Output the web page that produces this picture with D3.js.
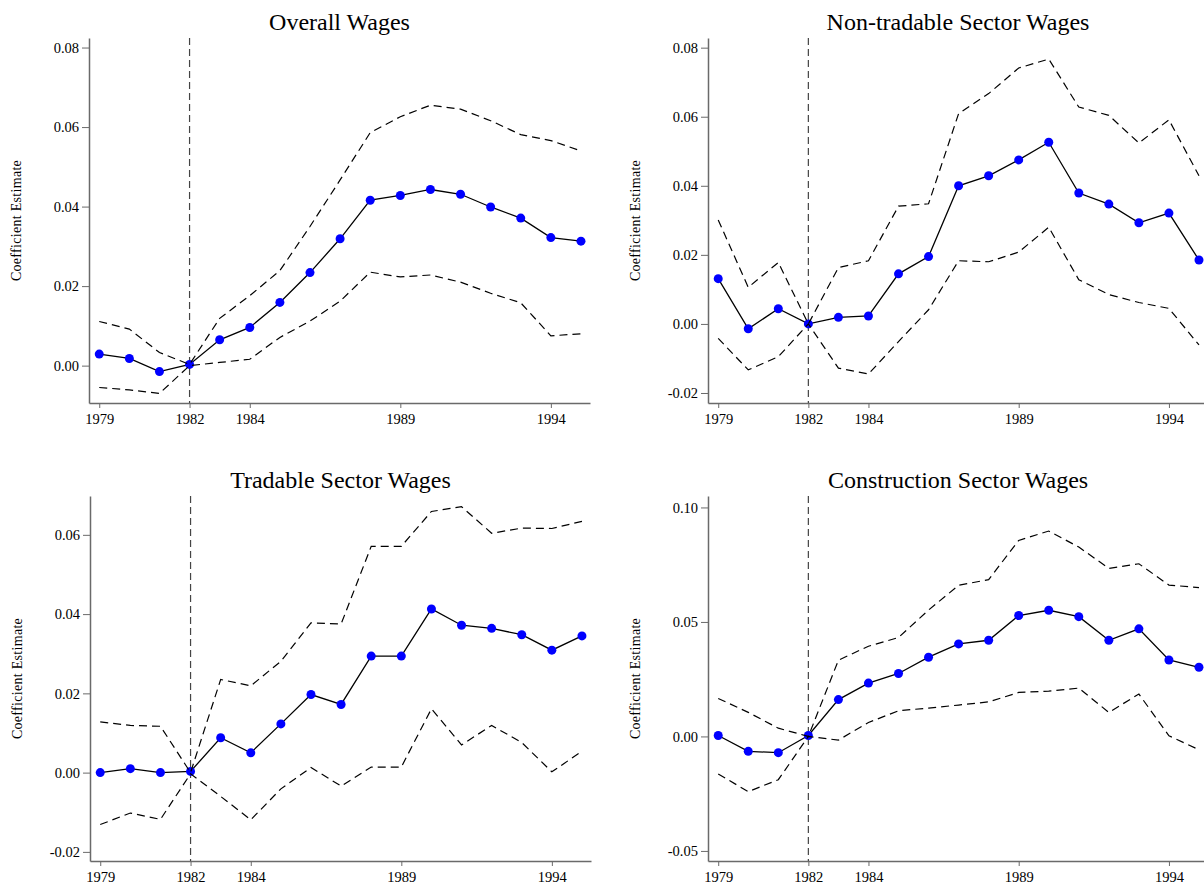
<!DOCTYPE html>
<html>
<head>
<meta charset="utf-8">
<script src="https://cdn.jsdelivr.net/npm/d3@7"></script>
<style>
  html, body { margin: 0; padding: 0; background: #fff; }
  svg { display: block; font-family: "Liberation Serif", "Times New Roman", serif; }
</style>
</head>
<body>
<div id="chart"></div>
<script>
const YEARS = [1979, 1980, 1981, 1982, 1983, 1984, 1985, 1986, 1987,
               1988, 1989, 1990, 1991, 1992, 1993, 1994, 1995];
const X_TICKS = [1979, 1982, 1984, 1989, 1994];
const X_RANGE = [1978.66, 1995.3];
const EVENT_YEAR = 1982;

// Overall wages
const OVERALL_COEF  = [0.0029, 0.0018, -0.0015, 0.0003, 0.0065, 0.0096, 0.0159, 0.0234, 0.0319,
                       0.0416, 0.0428, 0.0443, 0.0431, 0.0399, 0.0371, 0.0322, 0.0313];
const OVERALL_UPPER = [0.0111, 0.0092, 0.0033, 0.0003, 0.0119, 0.0176, 0.0239, 0.0350, 0.0467,
                       0.0586, 0.0626, 0.0655, 0.0645, 0.0616, 0.0581, 0.0566, 0.0540];
const OVERALL_LOWER = [-0.0055, -0.0061, -0.0070, 0.0000, 0.0008, 0.0016, 0.0071, 0.0112, 0.0162,
                       0.0235, 0.0223, 0.0228, 0.0210, 0.0182, 0.0158, 0.0075, 0.0080];
const OVERALL_Y_TICKS = [0, 0.02, 0.04, 0.06, 0.08];
const OVERALL_Y_RANGE = [-0.0094, 0.0824];

// Non-tradable sector wages
const NONTRAD_COEF  = [0.0131, -0.0014, 0.0044, 0.0000, 0.0019, 0.0023, 0.0145, 0.0195, 0.0400,
                       0.0429, 0.0475, 0.0526, 0.0379, 0.0347, 0.0293, 0.0321, 0.0185];
const NONTRAD_UPPER = [0.0301, 0.0106, 0.0178, 0.0000, 0.0163, 0.0183, 0.0341, 0.0348, 0.0609,
                       0.0667, 0.0741, 0.0767, 0.0628, 0.0604, 0.0524, 0.0591, 0.0429];
const NONTRAD_LOWER = [-0.0042, -0.0133, -0.0095, 0.0000, -0.0128, -0.0145, -0.0051, 0.0041, 0.0183,
                       0.0180, 0.0208, 0.0280, 0.0128, 0.0085, 0.0062, 0.0045, -0.0061];
const NONTRAD_Y_TICKS = [-0.02, 0, 0.02, 0.04, 0.06, 0.08];
const NONTRAD_Y_RANGE = [-0.0229, 0.0828];

// Tradable sector wages
const TRAD_COEF  = [0.0000, 0.0010, 0.0000, 0.0003, 0.0088, 0.0050, 0.0123, 0.0197, 0.0172,
                    0.0294, 0.0294, 0.0413, 0.0372, 0.0364, 0.0348, 0.0309, 0.0345];
const TRAD_UPPER = [0.0128, 0.0119, 0.0117, 0.0000, 0.0235, 0.0219, 0.0281, 0.0378, 0.0375,
                    0.0571, 0.0571, 0.0659, 0.0671, 0.0604, 0.0617, 0.0616, 0.0634];
const TRAD_LOWER = [-0.0131, -0.0102, -0.0118, -0.0003, -0.0060, -0.0119, -0.0041, 0.0013, -0.0034,
                    0.0014, 0.0014, 0.0161, 0.0070, 0.0119, 0.0076, 0.0002, 0.0054];
const TRAD_Y_TICKS = [-0.02, 0, 0.02, 0.04, 0.06];
const TRAD_Y_RANGE = [-0.0223, 0.0698];

// Construction sector wages
const CONSTR_COEF  = [0.0004, -0.0065, -0.0071, 0.0004, 0.0161, 0.0233, 0.0275, 0.0346, 0.0404,
                      0.0420, 0.0528, 0.0551, 0.0523, 0.0420, 0.0470, 0.0334, 0.0302];
const CONSTR_UPPER = [0.0166, 0.0105, 0.0036, 0.0000, 0.0333, 0.0394, 0.0432, 0.0552, 0.0660,
                      0.0685, 0.0856, 0.0897, 0.0827, 0.0734, 0.0754, 0.0661, 0.0650];
const CONSTR_LOWER = [-0.0164, -0.0241, -0.0189, 0.0000, -0.0016, 0.0061, 0.0112, 0.0124, 0.0137,
                      0.0151, 0.0192, 0.0198, 0.0211, 0.0105, 0.0185, 0.0003, -0.0058];
const CONSTR_Y_TICKS = [-0.05, 0, 0.05, 0.10];
const CONSTR_Y_RANGE = [-0.0544, 0.105];

const TITLES = ['Overall Wages', 'Non-tradable Sector Wages',
                'Tradable Sector Wages', 'Construction Sector Wages'];
const Y_LABEL = 'Coefficient Estimate';

const panels = [
  { title: TITLES[0], coef: OVERALL_COEF, upper: OVERALL_UPPER, lower: OVERALL_LOWER,
    yTicks: OVERALL_Y_TICKS, yRange: OVERALL_Y_RANGE, left: 89, right: 590, top: 38, bottom: 403 },
  { title: TITLES[1], coef: NONTRAD_COEF, upper: NONTRAD_UPPER, lower: NONTRAD_LOWER,
    yTicks: NONTRAD_Y_TICKS, yRange: NONTRAD_Y_RANGE, left: 708, right: 1208, top: 38, bottom: 403 },
  { title: TITLES[2], coef: TRAD_COEF, upper: TRAD_UPPER, lower: TRAD_LOWER,
    yTicks: TRAD_Y_TICKS, yRange: TRAD_Y_RANGE, left: 90, right: 591, top: 496, bottom: 861 },
  { title: TITLES[3], coef: CONSTR_COEF, upper: CONSTR_UPPER, lower: CONSTR_LOWER,
    yTicks: CONSTR_Y_TICKS, yRange: CONSTR_Y_RANGE, left: 708, right: 1208, top: 496, bottom: 861 },
];

const W = 1204, H = 888;
const AXIS_COLOR = '#6a6a6a';

const svg = d3.select('#chart').append('svg')
  .attr('width', W).attr('height', H)
  .attr('viewBox', `0 0 ${W} ${H}`);

panels.forEach(p => {
  const x = d3.scaleLinear().domain(X_RANGE).range([p.left, p.right]);
  const y = d3.scaleLinear().domain(p.yRange).range([p.bottom, p.top]);
  const g = svg.append('g');

  // title
  g.append('text')
    .attr('x', (p.left + p.right) / 2)
    .attr('y', p.top - 8)
    .attr('text-anchor', 'middle')
    .attr('font-size', '24px')
    .attr('fill', '#000')
    .text(p.title);

  // y axis label
  const ly = (p.top + p.bottom) / 2;
  g.append('text')
    .attr('transform', `translate(${p.left - 73},${ly}) rotate(-90)`)
    .attr('text-anchor', 'middle')
    .attr('dominant-baseline', 'central')
    .attr('font-size', '14px')
    .attr('letter-spacing', '0.3px')
    .attr('fill', '#000')
    .text(Y_LABEL);

  // y axis
  const yAxis = g.append('g')
    .attr('transform', `translate(${p.left},0)`)
    .call(d3.axisLeft(y).tickValues(p.yTicks).tickSize(7).tickPadding(3)
      .tickFormat(d => d.toFixed(2)).tickSizeOuter(0));

  // x axis
  const xAxis = g.append('g')
    .attr('transform', `translate(0,${p.bottom})`)
    .call(d3.axisBottom(x).tickValues(X_TICKS).tickSize(5).tickPadding(6)
      .tickFormat(d3.format('d')).tickSizeOuter(0));

  [yAxis, xAxis].forEach(a => {
    a.select('.domain').attr('stroke', AXIS_COLOR).attr('stroke-width', 1.5);
    a.selectAll('.tick line').attr('stroke', AXIS_COLOR).attr('stroke-width', 1);
    a.selectAll('.tick text').attr('fill', '#000').attr('font-size', '14.5px')
      .attr('font-family', '"Liberation Serif", "Times New Roman", serif');
  });

  // event line
  g.append('line')
    .attr('x1', x(EVENT_YEAR)).attr('x2', x(EVENT_YEAR))
    .attr('y1', p.top).attr('y2', p.bottom)
    .attr('stroke', '#444')
    .attr('stroke-width', 1.2)
    .attr('stroke-dasharray', '7,4');

  const pts = YEARS.map((yr, i) => ({ yr, c: p.coef[i], u: p.upper[i], l: p.lower[i] }));

  // coefficient line and markers
  g.append('path')
    .datum(pts)
    .attr('fill', 'none')
    .attr('stroke', '#000')
    .attr('stroke-width', 1.3)
    .attr('d', d3.line().x(d => x(d.yr)).y(d => y(d.c)));

  g.selectAll('circle')
    .data(pts)
    .join('circle')
    .attr('cx', d => x(d.yr))
    .attr('cy', d => y(d.c))
    .attr('r', 4.5)
    .attr('fill', '#0000ff');

  // confidence bands
  ['u', 'l'].forEach(k => {
    g.append('path')
      .datum(pts)
      .attr('fill', 'none')
      .attr('stroke', '#000')
      .attr('stroke-width', 1.2)
      .attr('stroke-dasharray', '8,5')
      .attr('d', d3.line().x(d => x(d.yr)).y(d => y(d[k])));
  });
});
</script>
</body>
</html>
